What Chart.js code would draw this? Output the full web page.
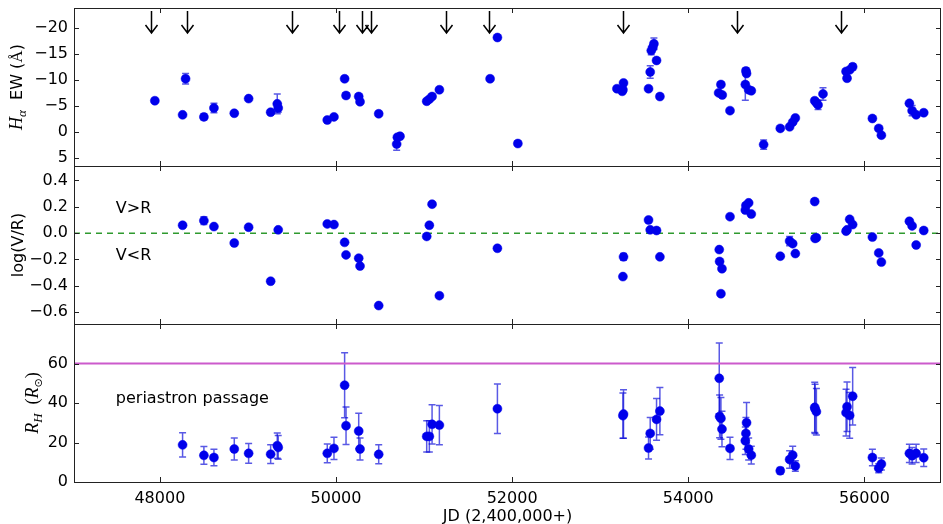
<!DOCTYPE html>
<html>
<head>
<meta charset="utf-8">
<script src="https://cdn.jsdelivr.net/npm/chart.js@4.4.1/dist/chart.umd.min.js"></script>
<style>
  body { margin: 0; background: #fff; }
  #wrap { position: relative; width: 943px; height: 524px; overflow: hidden; background: #fff; }
  canvas { position: absolute; left: 0; }
</style>
</head>
<body>
<div id="wrap">
  <canvas id="ewChart" width="946" height="171" style="top:0px"></canvas>
  <canvas id="vrChart" width="946" height="168" style="top:161px"></canvas>
  <canvas id="rhChart" width="946" height="205" style="top:319px"></canvas>
</div>
<script>
// shared x axis (JD - 2,400,000)
const xMin = 47025;
const xMax = 56870;
const xTicks = [48000, 50000, 52000, 54000, 56000];

// top panel: H alpha equivalent width
const ewJd = [47943, 48258, 48292, 48500, 48614, 48845, 49008, 49258, 49333, 49344, 49901, 49977, 50098, 50114, 50258, 50273, 50485, 50689, 50697, 50727, 51030, 51060, 51091, 51174, 51750, 51833, 52065, 53190, 53250, 53258, 53265, 53549, 53568, 53580, 53598, 53610, 53640, 53678, 54345, 54371, 54386, 54474, 54648, 54655, 54662, 54686, 54716, 54856, 55045, 55151, 55186, 55216, 55436, 55455, 55474, 55530, 55792, 55803, 55833, 55867, 56091, 56163, 56193, 56511, 56542, 56588, 56674];
const ewVal = [-6.0, -3.3, -10.2, -2.9, -4.6, -3.6, -6.4, -3.8, -5.4, -4.6, -2.3, -2.9, -10.2, -7.0, -6.8, -5.8, -3.5, 2.3, 1.0, 0.8, -5.9, -6.3, -6.8, -8.1, -10.2, -18.1, 2.2, -8.3, -7.8, -8.1, -9.4, -8.3, -11.5, -15.6, -16.2, -16.9, -13.7, -6.8, -7.5, -9.1, -7.1, -4.1, -9.1, -11.7, -11.2, -8.1, -7.9, 2.4, -0.7, -1.0, -1.9, -2.7, -6.0, -5.6, -5.2, -7.3, -11.6, -10.3, -11.9, -12.5, -2.6, -0.7, 0.6, -5.5, -4.1, -3.3, -3.7];
const ewErr = [0.3, 0.4, 1.0, 0.6, 0.9, 0.3, 0.3, 0.3, 1.9, 0.8, 0.3, 0.3, 0.4, 0.5, 0.3, 0.3, 0.4, 1.2, 0.3, 0.3, 0.3, 0.3, 0.3, 0.3, 0.3, 0.3, 0.3, 0.3, 0.3, 0.3, 0.3, 0.3, 1.2, 0.8, 0.4, 1.1, 0.3, 0.3, 0.3, 0.3, 0.3, 0.3, 3.0, 0.6, 0.3, 0.3, 0.3, 0.9, 0.3, 0.3, 0.3, 0.3, 0.3, 0.3, 0.9, 1.2, 0.3, 0.3, 0.3, 0.6, 0.3, 0.3, 0.3, 0.3, 1.0, 0.3, 0.3];
const ewTicks = [-20, -15, -10, -5, 0, 5];
// periastron passages, drawn as arrows
const periJd = [47894, 48310, 49497, 50038, 50299, 50394, 51250, 51742, 53258, 54553, 55735];

// middle panel: log(V/R)
const vrJd = [48258, 48500, 48614, 48845, 49008, 49258, 49344, 49901, 49977, 50098, 50114, 50258, 50273, 50485, 51030, 51060, 51091, 51174, 51833, 53258, 53265, 53549, 53568, 53640, 53678, 54352, 54356, 54371, 54383, 54474, 54648, 54655, 54686, 54716, 55045, 55151, 55186, 55216, 55436, 55440, 55455, 55792, 55803, 55833, 55867, 56091, 56163, 56193, 56511, 56542, 56588, 56674];
const vrVal = [0.06, 0.095, 0.05, -0.075, 0.045, -0.365, 0.025, 0.07, 0.065, -0.07, -0.165, -0.19, -0.25, -0.55, -0.025, 0.06, 0.22, -0.475, -0.115, -0.33, -0.18, 0.10, 0.025, 0.02, -0.18, -0.125, -0.215, -0.46, -0.27, 0.125, 0.175, 0.21, 0.23, 0.145, -0.175, -0.06, -0.08, -0.155, 0.24, -0.04, -0.035, 0.015, 0.025, 0.105, 0.065, -0.03, -0.15, -0.22, 0.09, 0.055, -0.09, 0.02];
const vrErr = [0.015, 0.03, 0.01, 0.01, 0.01, 0.01, 0.01, 0.01, 0.01, 0.01, 0.01, 0.01, 0.01, 0.01, 0.01, 0.01, 0.01, 0.01, 0.01, 0.01, 0.025, 0.01, 0.01, 0.01, 0.01, 0.01, 0.01, 0.01, 0.01, 0.01, 0.01, 0.01, 0.01, 0.01, 0.01, 0.035, 0.01, 0.01, 0.01, 0.01, 0.01, 0.01, 0.01, 0.01, 0.01, 0.01, 0.01, 0.01, 0.01, 0.01, 0.01, 0.01];
const vrTicks = [-0.6, -0.4, -0.2, 0.0, 0.2, 0.4];

// bottom panel: R_H in solar radii
const rhJd = [48258, 48500, 48614, 48845, 49008, 49258, 49333, 49344, 49901, 49977, 50098, 50114, 50258, 50273, 50485, 51030, 51060, 51091, 51174, 51833, 53258, 53265, 53549, 53568, 53640, 53678, 54352, 54356, 54371, 54383, 54474, 54648, 54655, 54662, 54686, 54716, 55045, 55151, 55186, 55216, 55436, 55440, 55455, 55792, 55803, 55833, 55867, 56091, 56163, 56193, 56511, 56542, 56588, 56674];
const rhVal = [18.8, 13.5, 12.4, 16.7, 14.5, 14.1, 18.4, 17.5, 14.5, 17.0, 49.0, 28.5, 25.8, 16.7, 14.0, 23.1, 23.1, 29.2, 28.8, 37.1, 33.6, 34.4, 17.2, 24.6, 31.7, 35.9, 52.5, 33.2, 32.2, 26.8, 17.0, 20.9, 24.6, 30.0, 16.7, 13.6, 5.7, 11.4, 13.6, 8.1, 37.8, 37.0, 35.6, 35.1, 38.1, 33.7, 43.4, 12.4, 7.0, 9.1, 14.5, 13.3, 14.5, 12.3];
const rhErr = [6.2, 4.5, 4.2, 5.6, 5.0, 4.7, 6.4, 6.0, 4.8, 5.6, 16.5, 9.5, 9.0, 5.6, 4.8, 7.9, 7.9, 9.9, 9.9, 12.5, 11.5, 12.3, 5.6, 8.0, 10.6, 12.0, 17.9, 10.8, 10.6, 9.0, 5.6, 7.0, 8.0, 10.3, 5.6, 4.5, 1.7, 4.4, 4.5, 2.7, 12.7, 12.5, 11.8, 11.8, 12.5, 11.6, 14.6, 4.2, 2.3, 3.0, 4.6, 4.2, 4.6, 4.4];
const rhTicks = [0, 20, 40, 60];
const rhLimit = 60;

Chart.defaults.font.family = 'DejaVu Sans';
Chart.defaults.font.size = 16;
Chart.defaults.color = '#000';

const dotColor = 'rgb(0,0,235)';
const minus = (s) => s.replace('-', '\u2212');

function points(xs, ys) {
  return xs.map((x, i) => ({ x: x, y: ys[i] }));
}

// vertical error bars with caps, drawn under the dots
const errorBars = {
  id: 'errorBars',
  beforeDatasetsDraw(chart) {
    const { ctx, scales: { x, y } } = chart;
    chart.data.datasets.forEach((ds) => {
      if (!ds.errors) return;
      ctx.save();
      ctx.strokeStyle = 'rgba(0,0,215,0.65)';
      ctx.lineWidth = 1.5;
      ds.data.forEach((p, i) => {
        const e = ds.errors[i];
        const px = x.getPixelForValue(p.x);
        const y1 = y.getPixelForValue(p.y - e);
        const y2 = y.getPixelForValue(p.y + e);
        ctx.beginPath();
        ctx.moveTo(px, y1); ctx.lineTo(px, y2);
        ctx.moveTo(px - 3.5, y1); ctx.lineTo(px + 3.5, y1);
        ctx.moveTo(px - 3.5, y2); ctx.lineTo(px + 3.5, y2);
        ctx.stroke();
      });
      ctx.restore();
    });
  }
};

// box around the plot with inward ticks on all four sides
const frame = {
  id: 'frame',
  afterDraw(chart) {
    const { ctx, chartArea: a, scales: { x, y } } = chart;
    ctx.save();
    ctx.strokeStyle = '#222';
    ctx.lineWidth = 1;
    ctx.strokeRect(a.left + 0.5, a.top + 0.5, a.right - a.left - 1, a.bottom - a.top);
    ctx.beginPath();
    xTicks.forEach((v) => {
      const px = Math.round(x.getPixelForValue(v)) + 0.5;
      ctx.moveTo(px, a.top); ctx.lineTo(px, a.top + 5);
      ctx.moveTo(px, a.bottom); ctx.lineTo(px, a.bottom - 5);
    });
    y.ticks.forEach((t) => {
      const py = Math.round(y.getPixelForValue(t.value)) + 0.5;
      ctx.moveTo(a.left, py); ctx.lineTo(a.left + 5, py);
      ctx.moveTo(a.right, py); ctx.lineTo(a.right - 5, py);
    });
    ctx.stroke();
    ctx.restore();
  }
};

// rotated y title made of pieces (math letters in italic serif)
function yTitle(parts, xPos) {
  return {
    id: 'yTitle',
    afterDraw(chart) {
      const { ctx, chartArea: a } = chart;
      ctx.save();
      ctx.translate(xPos, (a.top + a.bottom) / 2);
      ctx.rotate(-Math.PI / 2);
      ctx.fillStyle = '#000';
      ctx.textBaseline = 'alphabetic';
      let total = 0;
      parts.forEach((p) => { ctx.font = p.font; total += ctx.measureText(p.text).width; });
      let cx = -total / 2;
      parts.forEach((p) => {
        ctx.font = p.font;
        ctx.fillText(p.text, cx, 6 + (p.dy || 0));
        cx += ctx.measureText(p.text).width;
      });
      ctx.restore();
    }
  };
}

// text notes placed in data coordinates
function notes(list) {
  return {
    id: 'notes',
    afterDraw(chart) {
      const { ctx, scales: { x, y } } = chart;
      ctx.save();
      ctx.font = '16px DejaVu Sans';
      ctx.fillStyle = '#000';
      ctx.textBaseline = 'middle';
      list.forEach((n) => ctx.fillText(n.text, x.getPixelForValue(n.x), y.getPixelForValue(n.y)));
      ctx.restore();
    }
  };
}

// arrows marking periastron passages
const arrows = {
  id: 'arrows',
  afterDatasetsDraw(chart) {
    const { ctx, chartArea: a, scales: { x } } = chart;
    ctx.save();
    ctx.strokeStyle = '#000';
    ctx.lineWidth = 1.5;
    ctx.beginPath();
    periJd.forEach((jd) => {
      const px = Math.round(x.getPixelForValue(jd)) + 0.5;
      const tip = a.top + 25;
      ctx.moveTo(px, a.top + 3); ctx.lineTo(px, tip);
      ctx.moveTo(px - 6, tip - 8); ctx.lineTo(px, tip); ctx.lineTo(px + 6, tip - 8);
    });
    ctx.stroke();
    ctx.restore();
  }
};

function xScale(bottom) {
  return {
    type: 'linear',
    min: xMin,
    max: xMax,
    afterBuildTicks: (s) => { s.ticks = xTicks.map((v) => ({ value: v })); },
    afterFit: (s) => {
      s.height = bottom ? 42 : 0;
      s.paddingLeft = 0; s.paddingRight = 0; s.paddingTop = 0; s.paddingBottom = 0;
    },
    grid: { display: false, drawTicks: false },
    border: { display: false },
    ticks: { display: bottom, padding: 7, maxRotation: 0, callback: (v) => String(v) },
    title: { display: bottom, text: 'JD (2,400,000+)', padding: { top: 0, bottom: -2 } }
  };
}

function yScale(min, max, ticks, fmt, reverse) {
  return {
    type: 'linear',
    min: min,
    max: max,
    reverse: !!reverse,
    afterBuildTicks: (s) => { s.ticks = ticks.map((v) => ({ value: v })); },
    afterFit: (s) => {
      s.width = 74;
      s.paddingTop = 0; s.paddingBottom = 0; s.paddingLeft = 0; s.paddingRight = 0;
    },
    grid: { display: false, drawTicks: false },
    border: { display: false },
    ticks: { padding: 6, callback: fmt }
  };
}

function baseOptions(padding, x, y) {
  return {
    responsive: false,
    animation: false,
    layout: { padding: padding },
    plugins: { legend: { display: false }, tooltip: { enabled: false } },
    scales: { x: x, y: y }
  };
}

function dots(xs, ys, errs) {
  return {
    type: 'scatter',
    data: points(xs, ys),
    errors: errs,
    pointRadius: 4.5,
    pointBackgroundColor: dotColor,
    pointBorderColor: dotColor,
    pointBorderWidth: 0.5,
    order: 1
  };
}

function hLine(yv, color, dash, width) {
  return {
    type: 'line',
    data: [{ x: xMin, y: yv }, { x: xMax, y: yv }],
    borderColor: color,
    borderWidth: width,
    borderDash: dash,
    pointRadius: 0,
    order: 2
  };
}

// top panel
new Chart(document.getElementById('ewChart'), {
  type: 'scatter',
  data: { datasets: [dots(ewJd, ewVal, ewErr)] },
  options: baseOptions({ top: 8, bottom: 0, left: 0, right: 0 }, xScale(false),
    yScale(-23.75, 6.5, ewTicks, (v) => minus(String(v)), true)),
  plugins: [errorBars, arrows, frame, yTitle([
    { text: 'H', font: 'italic 18px "Liberation Serif"' },
    { text: '\u03b1', font: 'italic 13px "Liberation Serif"', dy: 4 },
    { text: '  EW (', font: '16px "DejaVu Sans"' },
    { text: '\u00c5', font: '17px "Liberation Serif"' },
    { text: ')', font: '16px "DejaVu Sans"' }
  ], 16)]
});

// middle panel
new Chart(document.getElementById('vrChart'), {
  type: 'scatter',
  data: { datasets: [dots(vrJd, vrVal, vrErr), hLine(0, '#2f9a2f', [6, 5], 1.5)] },
  options: baseOptions({ top: 0, bottom: 0, left: 0, right: 0 }, xScale(false),
    yScale(-0.69, 0.51, vrTicks, (v) => minus(v.toFixed(1)))),
  plugins: [errorBars, frame, notes([
    { text: 'V>R', x: 47500, y: 0.185 },
    { text: 'V<R', x: 47500, y: -0.17 }
  ]), yTitle([{ text: 'log(V/R)', font: '16px "DejaVu Sans"' }], 17)]
});

// bottom panel
new Chart(document.getElementById('rhChart'), {
  type: 'scatter',
  data: { datasets: [dots(rhJd, rhVal, rhErr), hLine(rhLimit, '#cc5acc', [], 2)] },
  options: baseOptions({ top: 0, bottom: 0, left: 0, right: 0 }, xScale(true),
    yScale(0, 80, rhTicks, (v) => String(v))),
  plugins: [errorBars, frame, notes([
    { text: 'periastron passage', x: 47500, y: 42 }
  ]), yTitle([
    { text: 'R', font: 'italic 18px "Liberation Serif"' },
    { text: 'H', font: 'italic 13px "Liberation Serif"', dy: 4 },
    { text: '  (', font: '18px "Liberation Serif"' },
    { text: 'R', font: 'italic 18px "Liberation Serif"' },
    { text: '\u2299', font: '11px "DejaVu Sans"', dy: 4 },
    { text: ')', font: '18px "Liberation Serif"' }
  ], 32)]
});
</script>
</body>
</html>
